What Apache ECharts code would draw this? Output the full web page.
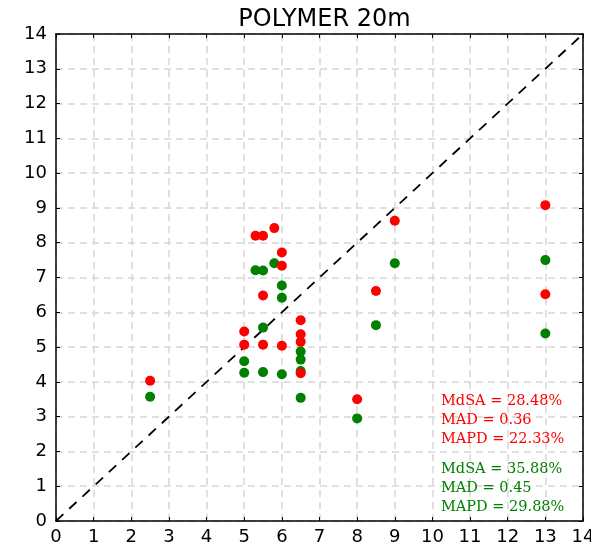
<!DOCTYPE html>
<html>
<head>
<meta charset="utf-8">
<script src="https://cdn.jsdelivr.net/npm/echarts@6/dist/echarts.min.js"></script>
<style>
  html, body { margin: 0; padding: 0; background: #fff; }
  #chart { width: 591px; height: 551px; }
</style>
</head>
<body>
<div id="chart"></div>
<script>
// In-situ depth (x) paired with the two retrieval estimates (y)
const xVals = [2.5, 5, 5, 5.3, 5.5, 5.5, 5.5, 5.8, 6, 6, 6, 6.5, 6.5, 6.5, 6.5, 8, 8.5, 9, 13, 13];
const redVals = [4.03, 5.45, 5.07, 8.2, 8.2, 6.48, 5.07, 8.42, 7.72, 7.34, 5.04, 5.77, 5.37, 5.15, 4.25, 3.5, 6.61, 8.63, 9.08, 6.52];
const greenVals = [3.57, 4.59, 4.26, 7.21, 7.2, 5.56, 4.28, 7.41, 6.77, 6.42, 4.22, 4.87, 4.64, 4.31, 3.54, 2.95, 5.63, 7.41, 7.5, 5.39];

// 1:1 reference line end points
const oneToOne = [[0, 0], [14, 14]];

// Statistics text blocks
const redStats = ['MdSA = 28.48%', 'MAD = 0.36', 'MAPD = 22.33%'];
const greenStats = ['MdSA = 35.88%', 'MAD = 0.45', 'MAPD = 29.88%'];

const chartTitle = 'POLYMER 20m';
const axisMin = 0, axisMax = 14, axisStep = 1;

const RED = '#ff0000';
const GREEN = '#008000';

const chart = echarts.init(document.getElementById('chart'), null, { renderer: 'canvas' });

const tickFont = { fontFamily: 'DejaVu Sans', fontSize: 18, color: '#000' };

function mainAxis(pos, margin) {
  return {
    type: 'value', position: pos, min: axisMin, max: axisMax, interval: axisStep,
    axisLine: { show: true, onZero: false, lineStyle: { color: '#000', width: 1.5 } },
    axisTick: { show: true, inside: true, length: 4, lineStyle: { color: '#000', width: 1 } },
    axisLabel: Object.assign({ margin: margin }, tickFont),
    splitLine: { show: true, lineStyle: { color: '#d6d6d6', width: 1.5, type: [7, 5] } }
  };
}
function mirrorAxis(pos) {
  return {
    type: 'value', position: pos, min: axisMin, max: axisMax, interval: axisStep,
    axisLine: { show: true, onZero: false, lineStyle: { color: '#000', width: 1.5 } },
    axisTick: { show: true, inside: true, length: 4, lineStyle: { color: '#000', width: 1 } },
    axisLabel: { show: false },
    splitLine: { show: false }
  };
}

const statText = [];
const statLeft = 441;
redStats.forEach((t, i) => statText.push({ text: t, y: 402 + i * 19, color: RED }));
greenStats.forEach((t, i) => statText.push({ text: t, y: 470 + i * 19, color: GREEN }));

chart.setOption({
  animation: false,
  backgroundColor: '#fff',
  title: {
    text: chartTitle, left: 319.5, top: 3, textAlign: 'center',
    textStyle: { fontFamily: 'DejaVu Sans', fontSize: 24, fontWeight: 'normal', color: '#000' }
  },
  grid: { left: 56, right: 8, top: 34, bottom: 30, containLabel: false, outerBoundsMode: 'none' },
  xAxis: [mainAxis('bottom', 7), mirrorAxis('top')],
  yAxis: [mainAxis('left', 9), mirrorAxis('right')],
  series: [
    {
      type: 'line', data: oneToOne, symbol: 'none', silent: true,
      lineStyle: { color: '#000', width: 1.8, type: [10, 8] }, z: 3
    },
    {
      type: 'scatter', data: xVals.map((x, i) => [x, greenVals[i]]),
      symbol: 'circle', symbolSize: 10, itemStyle: { color: GREEN, opacity: 1 }, z: 4
    },
    {
      type: 'scatter', data: xVals.map((x, i) => [x, redVals[i]]),
      symbol: 'circle', symbolSize: 10, itemStyle: { color: RED, opacity: 1 }, z: 5
    }
  ],
  graphic: statText.map(s => ({
    type: 'text', left: statLeft, top: s.y - 8, z: 10,
    style: { text: s.text, fill: s.color, font: '14.5px "DejaVu Serif"' }
  }))
});
</script>
</body>
</html>
